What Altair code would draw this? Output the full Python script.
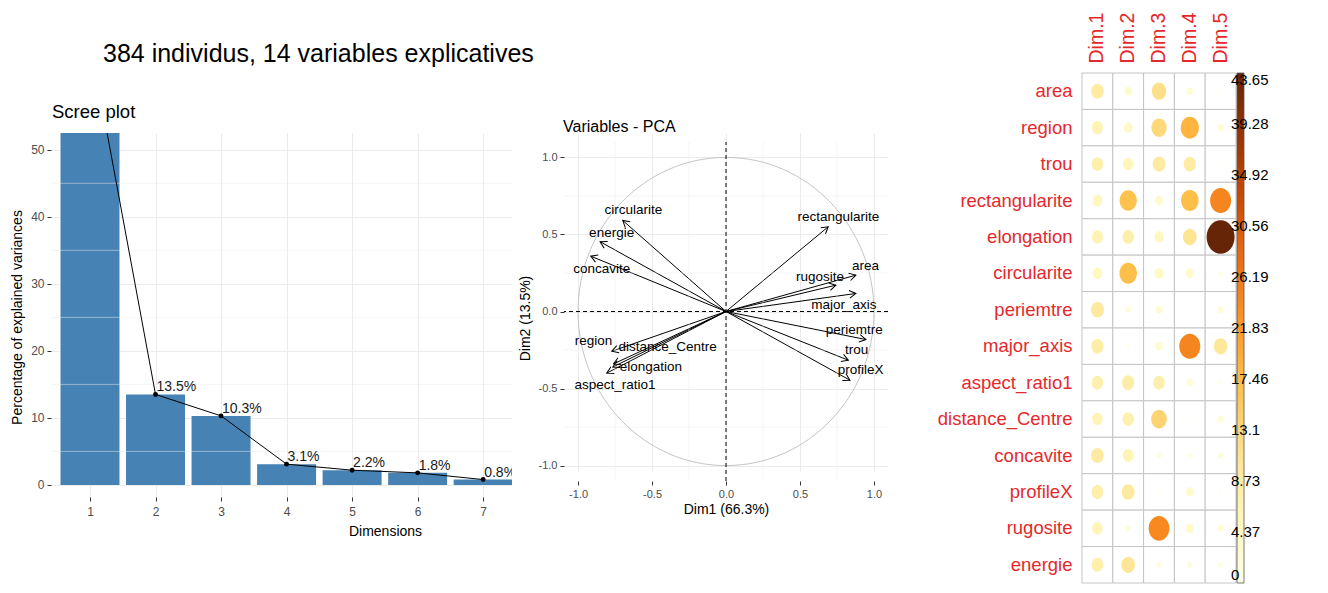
import altair as alt
import pandas as pd

FONT = "Liberation Sans"
GRID = "#EBEBEB"
AXT = "#4D4D4D"

MAIN_TITLE = "384 individus, 14 variables explicatives"

# ---------------- Scree plot data ----------------
scree_dims = [1, 2, 3, 4, 5, 6, 7]
scree_pct = [66.3, 13.5, 10.3, 3.1, 2.2, 1.8, 0.8]
scree_y_ticks = [0, 10, 20, 30, 40, 50]
scree_y_minor = [5, 15, 25, 35, 45]

# ---------------- PCA variables data ----------------
pca_vars = ["circularite", "energie", "concavite", "rectangularite", "area", "rugosite",
            "major_axis", "periemtre", "trou", "profileX", "region", "distance_Centre",
            "elongation", "aspect_ratio1"]
pca_dim1 = [-0.698, -0.851, -0.914, 0.691, 0.878, 0.743, 0.878, 0.946, 0.827, 0.838,
            -0.772, -0.760, -0.765, -0.806]
pca_dim2 = [0.591, 0.453, 0.359, 0.550, 0.236, 0.171, 0.117, -0.182, -0.316, -0.446,
            -0.258, -0.340, -0.360, -0.400]
pca_label_x = [-0.626, -0.773, -0.840, 0.759, 0.943, 0.635, 0.797, 0.867, 0.883, 0.910,
               -0.896, -0.395, -0.508, -0.750]
pca_label_y = [0.658, 0.510, 0.273, 0.615, 0.294, 0.225, 0.041, -0.121, -0.251, -0.381,
               -0.193, -0.229, -0.359, -0.479]
pca_ticks = [-1.0, -0.5, 0.0, 0.5, 1.0]
pca_minor = [-0.75, -0.25, 0.25, 0.75]

# ---------------- Contributions data ----------------
contrib_vars = ["area", "region", "trou", "rectangularite", "elongation", "circularite",
                "periemtre", "major_axis", "aspect_ratio1", "distance_Centre", "concavite",
                "profileX", "rugosite", "energie"]
contrib_dims = ["Dim.1", "Dim.2", "Dim.3", "Dim.4", "Dim.5"]
contrib_dim1 = [8.6, 6.6, 7.4, 5.3, 6.7, 5.1, 9.3, 8.3, 7.1, 6.2, 8.7, 7.6, 6.1, 7.6]
contrib_dim2 = [3.2, 4.2, 5.8, 16.5, 7.4, 17.0, 1.6, 0.5, 8.2, 7.3, 6.4, 9.2, 1.6, 10.2]
contrib_dim3 = [11.5, 12.8, 9.0, 3.5, 4.8, 4.5, 2.6, 3.0, 7.4, 13.6, 1.4, 0.3, 24.0, 1.4]
contrib_dim4 = [2.4, 18.5, 8.5, 17.0, 10.5, 3.8, 0.1, 24.5, 2.4, 0.3, 0.9, 3.4, 3.6, 1.6]
contrib_dim5 = [0.4, 2.2, 0.3, 24.5, 43.65, 1.0, 2.0, 10.0, 0.5, 2.2, 1.5, 0.3, 2.2, 1.2]
colorbar_ticks = [0, 4.37, 8.73, 13.1, 17.46, 21.83, 26.19, 30.56, 34.92, 39.28, 43.65]
CMAX = 43.65
YLORBR = ["#ffffe5", "#fff7bc", "#fee391", "#fec44f", "#fe9929",
          "#ec7014", "#cc4c02", "#993404", "#662506"]

one = pd.DataFrame({"k": [0]})

# plot-area origin of the first panel in the page (pixels); used for helpers / legend
ORIGIN_X, ORIGIN_Y = 51, 133


def marker(x, y):
    # invisible layout helper fixing the panel's outer extent
    return alt.Chart(one).mark_rule(color="white", strokeWidth=0).encode(
        x=alt.value(x), x2=alt.value(x), y=alt.value(y), y2=alt.value(y + 1))


# ================= Scree plot =================
W1, H1 = 461, 364
sx = alt.Scale(domain=[0.405, 7.44], nice=False, zero=False)
sy = alt.Scale(domain=[-1.8, 52.5], nice=False, zero=False)
scree_df = pd.DataFrame({"dim": scree_dims, "pct": scree_pct})

scree_x_axis = alt.Axis(values=scree_dims, format="d", grid=True, gridColor=GRID, gridWidth=1,
                        domain=False, ticks=True, tickColor="#333333", tickSize=4,
                        labelColor=AXT, labelFontSize=12, labelPadding=5, labelFlush=False,
                        title="Dimensions", titleFontSize=14, titleFontWeight="normal",
                        titleColor="black", titleX=334, titleY=27, titleBaseline="top",
                        titleAlign="center")
scree_y_axis = alt.Axis(values=scree_y_ticks, grid=True, gridColor=GRID, gridWidth=1,
                        domain=False, ticks=True, tickColor="#333333", tickSize=4,
                        labelColor=AXT, labelFontSize=12, labelPadding=3, labelFlush=False,
                        title="Percentage of explained variances", titleFontSize=14,
                        titleFontWeight="normal", titleColor="black", titleX=-34,
                        titleY=184, titleAngle=270, titleBaseline="middle", titleAlign="center")

bars = alt.Chart(scree_df).transform_calculate(
    x1="datum.dim - 0.45", x2="datum.dim + 0.45", base="0"
).mark_rect(color="#4682B4", clip=True).encode(
    x=alt.X("x1:Q", scale=sx, axis=scree_x_axis),
    x2="x2:Q",
    y=alt.Y("pct:Q", scale=sy, axis=scree_y_axis),
    y2="base:Q",
)
scree_minor = alt.Chart(pd.DataFrame({"v": scree_y_minor})).mark_rule(
    color=GRID, strokeWidth=0.5).encode(y=alt.Y("v:Q", scale=sy))
scree_line = alt.Chart(scree_df).mark_line(color="black", strokeWidth=1, clip=True).encode(
    x=alt.X("dim:Q", scale=sx), y=alt.Y("pct:Q", scale=sy))
scree_pts = alt.Chart(scree_df).mark_point(filled=True, color="black", size=24, opacity=1,
                                           clip=True).encode(
    x=alt.X("dim:Q", scale=sx), y=alt.Y("pct:Q", scale=sy))
scree_lbl = alt.Chart(scree_df).transform_calculate(
    lbl="format(datum.pct, '.1f') + '%'"
).mark_text(align="left", baseline="alphabetic", dx=1, dy=-3, fontSize=14,
            color="#1A1A1A", clip=True).encode(
    x=alt.X("dim:Q", scale=sx), y=alt.Y("pct:Q", scale=sy), text="lbl:N")
scree_title = alt.Chart(pd.DataFrame({"t": ["Scree plot"]})).mark_text(
    align="left", baseline="alphabetic", fontSize=18.5, color="black").encode(
    x=alt.value(1), y=alt.value(-15), text="t:N")

scree = alt.layer(bars, scree_minor, scree_line, scree_pts, scree_lbl, scree_title,
                  marker(-51, 0), marker(464, 0)).properties(width=W1, height=H1)

# ================= PCA variables =================
W2, H2 = 324, 348
PX_DOM = [-1.095, 1.095]
PY_DOM = [-1.1, 1.1]
px_ = alt.Scale(domain=PX_DOM, nice=False, zero=False)
py_ = alt.Scale(domain=PY_DOM, range=[H2, 9], nice=False, zero=False)

lab_expr = "(datum.value < 0 ? '-' : '') + format(abs(datum.value), '.1f')"
pca_x_axis = alt.Axis(values=pca_ticks, labelExpr=lab_expr, grid=True, gridColor=GRID,
                      gridWidth=1, domain=False, ticks=True, tickColor="#333333", tickSize=4,
                      labelColor=AXT, labelFontSize=11, labelPadding=3, labelFlush=False,
                      title="Dim1 (66.3%)", titleFontSize=14, titleFontWeight="normal",
                      titleColor="black", titleX=162, titleY=21, titleBaseline="top",
                      titleAlign="center")
pca_y_axis = alt.Axis(values=pca_ticks, labelExpr=lab_expr, grid=True, gridColor=GRID,
                      gridWidth=1, domain=False, ticks=True, tickColor="#333333", tickSize=4,
                      labelColor=AXT, labelFontSize=11, labelPadding=3, labelFlush=False,
                      title="Dim2 (13.5%)", titleFontSize=14, titleFontWeight="normal",
                      titleColor="black", titleX=-39, titleY=185, titleAngle=270,
                      titleBaseline="middle", titleAlign="center")

pca_df = pd.DataFrame({"variable": pca_vars, "d1": pca_dim1, "d2": pca_dim2,
                       "lx": pca_label_x, "ly": pca_label_y})
pca_df["ox"] = 0.0
pca_df["oy"] = 0.0
minor_df = pd.DataFrame({"m": pca_minor})
ref_df = pd.DataFrame({"z": [0.0], "lo": [PY_DOM[0]], "hi": [PY_DOM[1]]})

arrows = alt.Chart(pca_df).mark_rule(color="black", strokeWidth=1).encode(
    x=alt.X("d1:Q", scale=px_, axis=pca_x_axis),
    y=alt.Y("d2:Q", scale=py_, axis=pca_y_axis),
    x2="ox:Q", y2="oy:Q")
hminor = alt.Chart(minor_df).mark_rule(color=GRID, strokeWidth=0.5).encode(
    y=alt.Y("m:Q", scale=py_))
vminor = alt.Chart(minor_df).transform_calculate(
    lo=str(PY_DOM[0]), hi=str(PY_DOM[1])
).mark_rule(color=GRID, strokeWidth=0.5).encode(
    x=alt.X("m:Q", scale=px_), y=alt.Y("lo:Q", scale=py_), y2="hi:Q")

# unit correlation circle: one symbol centred on the origin, radius 1 in data units
px_per_unit_x = W2 / (PX_DOM[1] - PX_DOM[0])
px_per_unit_y = (H2 - 9) / (PY_DOM[1] - PY_DOM[0])
ry = px_per_unit_y / px_per_unit_x
CIRCLE = (f"M 1 0 C 1 {0.5523*ry:.4f} 0.5523 {ry:.4f} 0 {ry:.4f} "
          f"C -0.5523 {ry:.4f} -1 {0.5523*ry:.4f} -1 0 "
          f"C -1 {-0.5523*ry:.4f} -0.5523 {-ry:.4f} 0 {-ry:.4f} "
          f"C 0.5523 {-ry:.4f} 1 {-0.5523*ry:.4f} 1 0 Z")
circle = alt.Chart(ref_df).mark_point(shape=CIRCLE, filled=False, color="#BDBDBD",
                                      strokeWidth=0.9, opacity=1,
                                      size=(2 * px_per_unit_x) ** 2).encode(
    x=alt.X("z:Q", scale=px_), y=alt.Y("z:Q", scale=py_))
hline = alt.Chart(ref_df).mark_rule(color="black", strokeDash=[4, 3], strokeWidth=1).encode(
    y=alt.Y("z:Q", scale=py_))
vline = alt.Chart(ref_df).mark_rule(color="black", strokeDash=[4, 3], strokeWidth=1).encode(
    x=alt.X("z:Q", scale=px_), y=alt.Y("lo:Q", scale=py_), y2="hi:Q")
ARROW = "M -0.55 0.95 L 0 0 L 0.55 0.95"
heads = alt.Chart(pca_df).transform_calculate(
    ang="(atan2(datum.d1, datum.d2) * 180 / PI + 360) % 360"
).mark_point(shape=ARROW, filled=False, color="black", strokeWidth=1, size=190,
             opacity=1).encode(
    x=alt.X("d1:Q", scale=px_), y=alt.Y("d2:Q", scale=py_),
    angle=alt.Angle("ang:Q", scale=None))
pca_labels = alt.Chart(pca_df).mark_text(fontSize=13.5, color="black", align="center",
                                          baseline="middle").encode(
    x=alt.X("lx:Q", scale=px_), y=alt.Y("ly:Q", scale=py_), text="variable:N")
pca_title = alt.Chart(pd.DataFrame({"t": ["Variables - PCA"]})).mark_text(
    align="left", baseline="alphabetic", fontSize=16, color="black").encode(
    x=alt.value(-1), y=alt.value(-1), text="t:N")

pca = alt.layer(arrows, hminor, vminor, circle, hline, vline, heads, pca_labels, pca_title,
                marker(-49, 0), marker(341, 0)).properties(width=W2, height=H2)

# ================= Contributions (corrplot) =================
W3, H3 = 154, 450
rows = []
for i, v in enumerate(contrib_vars):
    for d, arr in zip(contrib_dims, [contrib_dim1, contrib_dim2, contrib_dim3,
                                     contrib_dim4, contrib_dim5]):
        rows.append({"variable": v, "dim": d, "val": arr[i]})
cdf = pd.DataFrame(rows)

xb = alt.Scale(domain=contrib_dims, range=[0, W3], paddingInner=0, paddingOuter=0)
yb = alt.Scale(domain=contrib_vars, range=[-60, H3], paddingInner=0, paddingOuter=0)
n_stops = len(YLORBR)
color_domain = [round(CMAX * i / (n_stops - 1), 4) for i in range(n_stops)]

x_top = alt.Axis(orient="top", offset=60, labelAngle=270, labelAlign="left",
                 labelBaseline="middle", labelPadding=10, labelColor="#E5292B",
                 labelFontSize=19.5, ticks=False, domain=False, grid=False, title=None)
y_left = alt.Axis(orient="left", labelColor="#E5292B", labelFontSize=18.5, labelPadding=10,
                  ticks=False, domain=False, grid=False, title=None, labelOverlap=False)

cells = alt.Chart(cdf).mark_rect(fill="white", stroke="#C4C4C4", strokeWidth=1).encode(
    x=alt.X("dim:N", scale=xb, axis=x_top),
    y=alt.Y("variable:N", scale=yb, axis=y_left))
ELLIPSE = ("M 1 0 C 1 0.6628 0.5523 1.2 0 1.2 C -0.5523 1.2 -1 0.6628 -1 0 "
           "C -1 -0.6628 -0.5523 -1.2 0 -1.2 C 0.5523 -1.2 1 -0.6628 1 0 Z")
# the colour legend is lifted to the top-level group, so its position is given
# relative to the first panel's plot origin
legend = alt.Legend(orient="none", legendX=1237 - ORIGIN_X, legendY=73 - ORIGIN_Y,
                    direction="vertical", gradientLength=510, gradientThickness=7,
                    values=colorbar_ticks, format=".4~g", labelFontSize=15,
                    labelColor="black", labelOverlap=False, title=None, padding=0,
                    gradientStrokeColor="#555555", gradientStrokeWidth=0.8)
dots = alt.Chart(cdf).mark_point(shape=ELLIPSE, filled=True, opacity=1, strokeWidth=0).encode(
    x=alt.X("dim:N", scale=xb),
    y=alt.Y("variable:N", scale=yb),
    size=alt.Size("val:Q", scale=alt.Scale(domain=[0, CMAX], range=[0, 784]), legend=None),
    color=alt.Color("val:Q", scale=alt.Scale(domain=color_domain, range=YLORBR),
                    legend=legend))

corr = alt.layer(cells, dots, marker(-177, 0), marker(0, -133)).properties(
    width=W3, height=H3)

# main title: placed inside the already-occupied top band (no extra space reserved)
main_title = alt.TitleParams(text=MAIN_TITLE, anchor="start", frame="bounds", orient="top",
                             offset=0, dx=103, dy=87, baseline="alphabetic", fontSize=25,
                             fontWeight="normal", color="black", font=FONT)

chart = alt.hconcat(scree, pca, corr, spacing=0).properties(
    padding=0, background="white", title=main_title
).configure(font=FONT).configure_view(stroke=None)

try:
    test = chart.configure_legend(gradientLabelOffset=-13)
    test.to_dict()
    chart = test
except Exception:
    chart = chart.configure_legend(labelOffset=0)

chart.save("out.html", embed_options={"renderer": "svg", "actions": False})
